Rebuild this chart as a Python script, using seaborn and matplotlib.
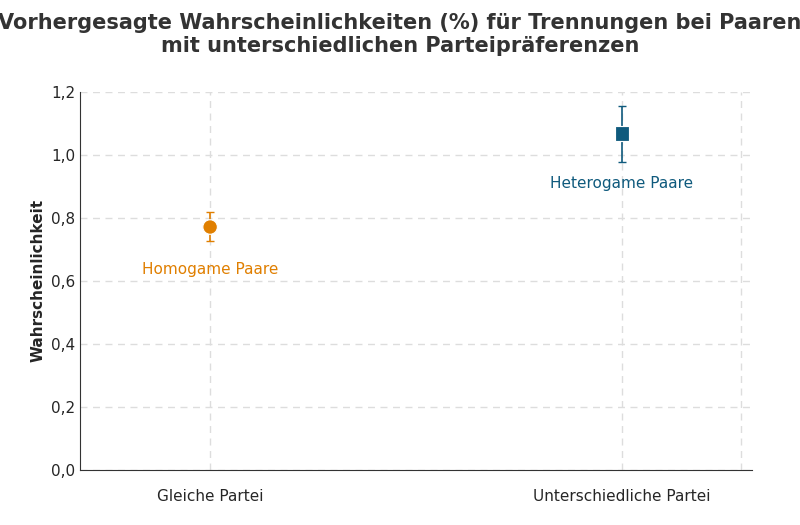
import matplotlib
matplotlib.use("Agg")
import matplotlib.pyplot as plt
import seaborn as sns
import pandas as pd

categories = ["Gleiche Partei", "Unterschiedliche Partei"]
labels = ["Homogame Paare", "Heterogame Paare"]
values = [0.771, 1.068]
lower = [0.727, 0.978]
upper = [0.819, 1.156]
colors = ["#E07F00", "#0F5A7D"]
markers = ["o", "s"]

plt.rcParams["font.family"] = "Roboto"
sns.set_style("white")
fig = plt.figure(figsize=(8, 5.25), dpi=100)
ax = fig.add_axes([0.1, 0.105, 0.84, 0.72])
df = pd.DataFrame({"cat": categories, "val": values, "lab": labels})

for i in range(2):
    ax.errorbar(i, values[i], yerr=[[values[i]-lower[i]], [upper[i]-values[i]]],
                fmt="none", ecolor=colors[i], capsize=3, elinewidth=1.2)
sns.scatterplot(data=df, x="cat", y="val", hue="lab", style="lab",
                palette=colors, markers=markers, s=110, ax=ax, legend=False, zorder=3)
for i in range(2):
    ax.text(i, lower[i] - 0.09 if i == 0 else lower[i] - 0.07, labels[i], color=colors[i],
            ha="center", va="center", fontsize=11, fontweight="medium")

ax.set_xlim(-0.316, 1.316)
ax.set_ylim(0, 1.2)
ax.set_yticks([0, 0.2, 0.4, 0.6, 0.8, 1.0, 1.2])
ax.set_yticklabels(["0,0", "0,2", "0,4", "0,6", "0,8", "1,0", "1,2"], fontsize=11)
ax.set_xticks([0, 1])
ax.set_xticklabels(categories, fontsize=11)
ax.tick_params(axis="x", pad=14, length=0)
ax.tick_params(axis="y", length=0)
ax.grid(True, linestyle=(0, (5, 4)), color="#DDDDDD", linewidth=1)
ax.axvline(1.29, linestyle=(0, (5, 4)), color="#DDDDDD", linewidth=1)
for s in ["top", "right"]:
    ax.spines[s].set_visible(False)
for s in ["left", "bottom"]:
    ax.spines[s].set_color("#333333")
ax.set_xlabel("")
ax.set_ylabel("Wahrscheinlichkeit", fontsize=11, fontweight="bold")
fig.suptitle("Vorhergesagte Wahrscheinlichkeiten (%) für Trennungen bei Paaren\nmit unterschiedlichen Parteipräferenzen",
             fontsize=15, fontweight="bold", color="#333333", y=0.975)
fig.savefig("out.png", dpi=100)
